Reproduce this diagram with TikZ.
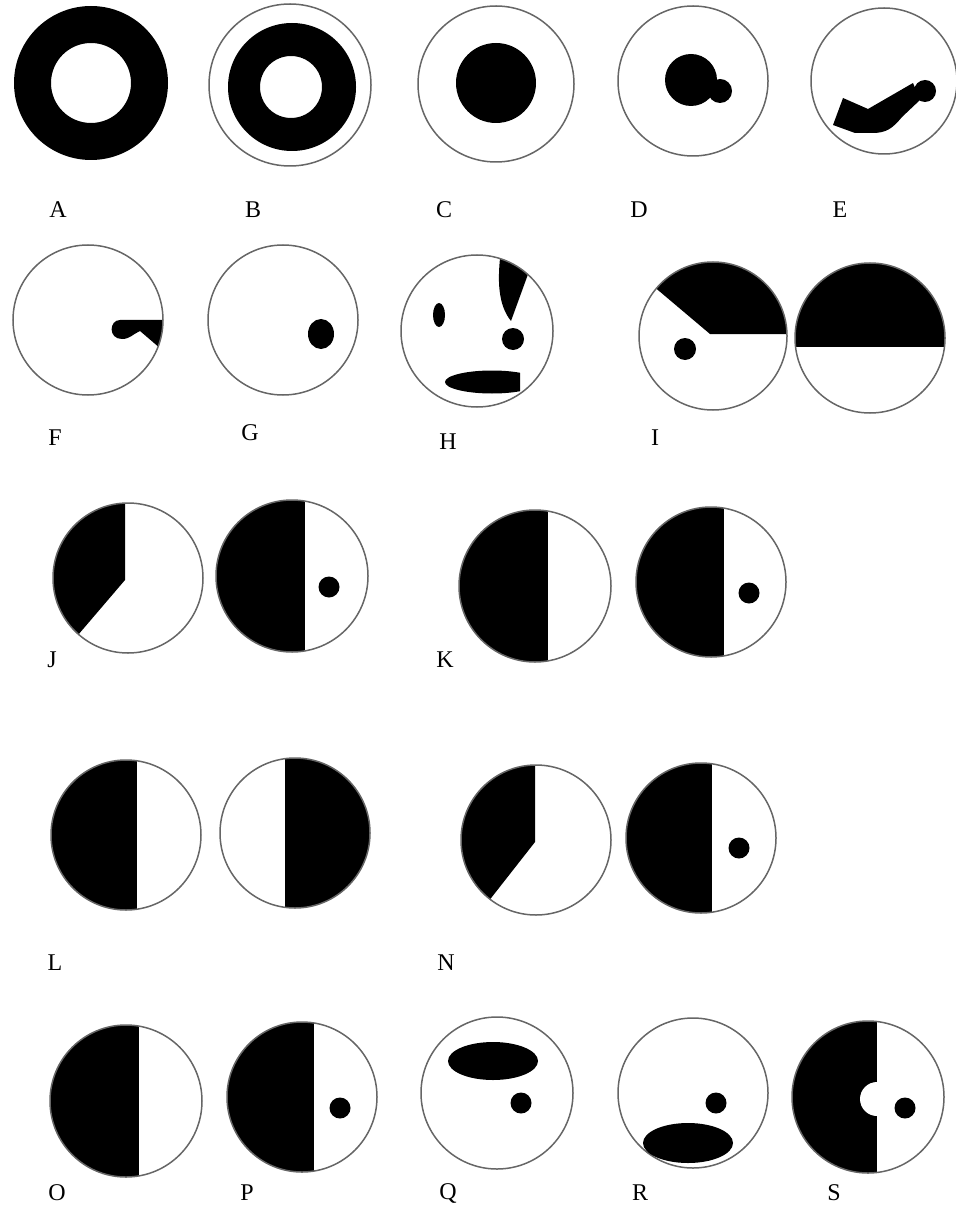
\documentclass[tikz,border=0pt]{standalone}
\usepackage{fontspec}
\setmainfont{Liberation Serif}
\begin{document}
\begin{tikzpicture}[x=0.5pt, y=-0.5pt,
  rim/.style={draw=black!60, line width=0.75pt},
  tag/.style={font=\fontsize{12}{14}\selectfont, inner sep=0pt}]
  \useasboundingbox (0,0) rectangle (956,1208);

  % row 1
  \fill[even odd rule] (91,83) circle (77) (91,83) circle (40);

  \draw[rim] (290,85) circle (81);
  \fill[even odd rule] (292,87) circle (64) (291,87) circle (31);

  \draw[rim] (496,84) circle (78);
  \fill (496,83) circle (40);

  \draw[rim] (693,81) circle (75);
  \fill (691,80) circle (26);
  \fill (720,91) circle (12);

  \draw[rim] (884,81) circle (73);
  \fill (833,125) -- (843,98) -- (868,109) -- (913,83) -- (920,100) -- (902,117)
    .. controls (892,129) and (886,133) .. (872,133) -- (855,133) -- cycle;
  \fill (925,91) circle (11);

  \node[tag] (lblA) at (58,210) {A};
  \node[tag] (lblB) at (253,210) {B};
  \node[tag] (lblC) at (444,210) {C};
  \node[tag] (lblD) at (639,210) {D};
  \node[tag] (lblE) at (840,210) {E};

  % row 2
  \begin{scope}
    \clip (88,320) circle (75);
    \fill (170,320) -- (120,320) .. controls (109,320) and (108,339) .. (122,339)
      .. controls (130,339) and (133,334) .. (140,331) -- (168,355) -- cycle;
  \end{scope}
  \draw[rim] (88,320) circle (75);

  \draw[rim] (283,320) circle (75);
  \fill (321,334) ellipse (13 and 15);

  \begin{scope}
    \clip (477,331) circle (76);
    \fill (511,321) -- (535,255) -- (501,250) .. controls (497,280) and (498,305) .. (511,321) -- cycle;
    \clip (400,360) rectangle (520,400);
    \fill (492,382) ellipse (47 and 11.5);
  \end{scope}
  \draw[rim] (477,331) circle (76);
  \fill (439,315) ellipse (6 and 12);
  \fill (513,339) circle (11);

  \begin{scope}
    \clip (713,336) circle (74);
    \fill (620,250) -- (620,258) -- (710,334) -- (800,334) -- (800,250) -- cycle;
  \end{scope}
  \draw[rim] (713,336) circle (74);
  \fill (685,349) circle (11);

  \begin{scope}
    \clip (870,338) circle (75);
    \fill (790,255) rectangle (950,347);
  \end{scope}
  \draw[rim] (870,338) circle (75);

  \node[tag] (lblF) at (55,438) {F};
  \node[tag] (lblG) at (250,433) {G};
  \node[tag] (lblH) at (448,442) {H};
  \node[tag] (lblI) at (655,438) {I};

  % row 3
  \begin{scope}
    \clip (128,578) circle (75);
    \fill (20,480) -- (125,480) -- (125,580) -- (31,690) -- (20,690) -- cycle;
  \end{scope}
  \draw[rim] (128,578) circle (75);

  \begin{scope}
    \clip (292,576) circle (76);
    \fill (200,490) rectangle (305,660);
  \end{scope}
  \draw[rim] (292,576) circle (76);
  \fill (329,587) circle (10.5);

  \begin{scope}
    \clip (535,586) circle (76);
    \fill (450,500) rectangle (548,670);
  \end{scope}
  \draw[rim] (535,586) circle (76);

  \begin{scope}
    \clip (711,582) circle (75);
    \fill (630,500) rectangle (724,665);
  \end{scope}
  \draw[rim] (711,582) circle (75);
  \fill (749,593) circle (10.5);

  \node[tag] (lblJ) at (52,660) {J};
  \node[tag] (lblK) at (445,660) {K};

  % row 4
  \begin{scope}
    \clip (126,835) circle (75);
    \fill (40,750) rectangle (137,920);
  \end{scope}
  \draw[rim] (126,835) circle (75);

  \begin{scope}
    \clip (295,833) circle (75);
    \fill (285,750) rectangle (380,920);
  \end{scope}
  \draw[rim] (295,833) circle (75);

  \begin{scope}
    \clip (536,840) circle (75);
    \fill (440,750) -- (535,750) -- (535,842) -- (466,930) -- (440,930) -- cycle;
  \end{scope}
  \draw[rim] (536,840) circle (75);

  \begin{scope}
    \clip (701,838) circle (75);
    \fill (620,750) rectangle (712,920);
  \end{scope}
  \draw[rim] (701,838) circle (75);
  \fill (739,848) circle (10.5);

  \node[tag] (lblL) at (55,963) {L};
  \node[tag] (lblN) at (446,963) {N};

  % row 5
  \begin{scope}
    \clip (126,1101) circle (76);
    \fill (40,1015) rectangle (139,1185);
  \end{scope}
  \draw[rim] (126,1101) circle (76);

  \begin{scope}
    \clip (302,1097) circle (75);
    \fill (220,1015) rectangle (314,1180);
  \end{scope}
  \draw[rim] (302,1097) circle (75);
  \fill (340,1108) circle (10.5);

  \draw[rim] (497,1093) circle (76);
  \fill (493,1061) ellipse (45 and 19);
  \fill (521,1103) circle (10.5);

  \draw[rim] (693,1093) circle (75);
  \fill (716,1103) circle (10.5);
  \fill (688,1143) ellipse (45 and 20);

  \begin{scope}
    \clip (868,1097) circle (76);
    \fill (785,1015) rectangle (877,1180);
    \fill[white] (877,1099) circle (17);
  \end{scope}
  \draw[rim] (868,1097) circle (76);
  \fill (905,1108) circle (10.5);

  \node[tag] (lblO) at (57,1193) {O};
  \node[tag] (lblP) at (247,1193) {P};
  \node[tag] (lblQ) at (448,1193) {Q};
  \node[tag] (lblR) at (640,1193) {R};
  \node[tag] (lblS) at (834,1193) {S};
\end{tikzpicture}
\end{document}
